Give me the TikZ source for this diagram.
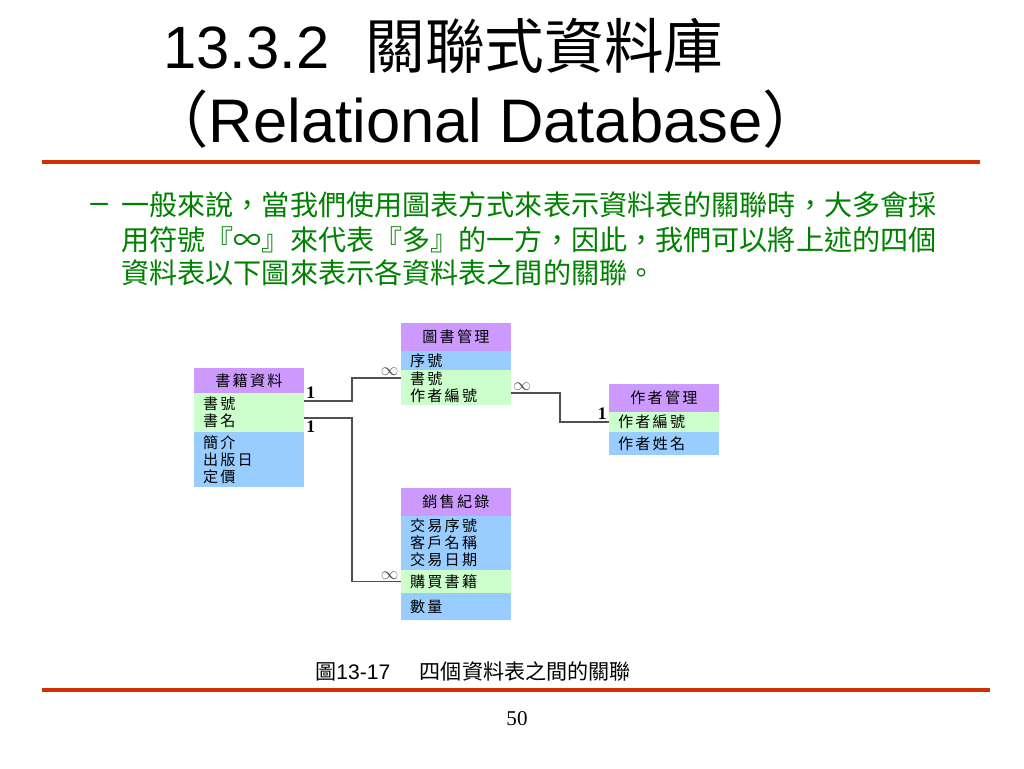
\documentclass[tikz,border=0pt]{standalone}
\usepackage{fontspec}
\setmainfont{Liberation Serif}
\setsansfont{Liberation Sans}
\newfontfamily\cjk{Noto Sans CJK TC}
\newfontfamily\cjkcell[LetterSpace=15]{Noto Sans CJK TC}
\usetikzlibrary{positioning,calc}
\definecolor{slidered}{RGB}{204,51,0}
\definecolor{hdrpurple}{RGB}{204,153,255}
\definecolor{keygreen}{RGB}{204,255,204}
\definecolor{infoblue}{RGB}{153,204,255}
\definecolor{linkgray}{RGB}{80,80,80}
\definecolor{notegreen}{RGB}{0,128,0}
\tikzset{
  hdr/.style={rectangle, fill=hdrpurple, minimum width=2.2cm, inner sep=0pt, outer sep=0pt, font=\cjkcell\fontsize{8.6}{9.8}\selectfont},
  fld/.style={rectangle, text width=1.84cm, inner xsep=0.18cm, inner ysep=0pt, outer sep=0pt, align=left, font=\cjkcell\fontsize{8.6}{9.8}\selectfont},
  key/.style={fld, fill=keygreen},
  info/.style={fld, fill=infoblue},
  rel/.style={draw=linkgray, line width=0.8pt},
  one/.style={font=\bfseries\fontsize{10}{10}\selectfont, inner sep=1pt},
  many/.style={text=linkgray, inner sep=1pt},
  note/.style={text=notegreen, inner sep=0pt, font=\cjk\fontsize{16}{16}\selectfont},
  rule/.style={draw=slidered, line width=2.8pt}
}
\begin{document}
\begin{tikzpicture}[x=0.02cm, y=-0.02cm]
\useasboundingbox (0,0) rectangle (1024,768);

% title
\node (title) [anchor=base west, inner sep=0pt, font=\sffamily\fontsize{34}{34}\selectfont] at (163,68) {13.3.2\hspace{0.6em}{\cjk 關聯式資料庫}};
\node (subtitle) [anchor=base west, inner sep=0pt, font=\sffamily\fontsize{35}{35}\selectfont] at (147,142) {{\cjk （}Relational Database{\cjk ）}};
\draw[rule] (42,162) -- (980,162);

% bullet text
\node (dash) [note, anchor=west, font=\sffamily\fontsize{18}{18}\selectfont] at (90,208) {–};
\node (note1) [note, anchor=west] at (121,205) {一般來說，當我們使用圖表方式來表示資料表的關聯時，大多會採};
\node (note2) [note, anchor=west] at (121,240) {用符號『∞』來代表『多』的一方，因此，我們可以將上述的四個};
\node (note3) [note, anchor=west] at (121,273) {資料表以下圖來表示各資料表之間的關聯。};

% tables
\node (bkhead) [hdr, anchor=north west, minimum height=0.5cm] at (194,368) {書籍資料};
\node (bkkey) [key, below=0pt of bkhead, minimum height=0.78cm] {書號\\書名};
\node (bkinfo) [info, below=0pt of bkkey, minimum height=1.1cm] {簡介\\出版日\\定價};

\node (libhead) [hdr, anchor=north west, minimum height=0.56cm] at (401,323) {圖書管理};
\node (libno) [info, below=0pt of libhead, minimum height=0.38cm] {序號};
\node (libkey) [key, below=0pt of libno, minimum height=0.7cm] {書號\\作者編號};

\node (authhead) [hdr, anchor=north west, minimum height=0.56cm] at (609,384) {作者管理};
\node (authkey) [key, below=0pt of authhead, minimum height=0.4cm] {作者編號};
\node (authname) [info, below=0pt of authkey, minimum height=0.46cm] {作者姓名};

\node (salehead) [hdr, anchor=north west, minimum height=0.56cm] at (401,488) {銷售紀錄};
\node (saleinfo) [info, below=0pt of salehead, minimum height=1.08cm] {交易序號\\客戶名稱\\交易日期};
\node (salebuy) [key, below=0pt of saleinfo, minimum height=0.46cm] {購買書籍};
\node (saleqty) [info, below=0pt of salebuy, minimum height=0.54cm] {數量};

% relations
\draw[rel] ($(bkkey.north east)+(0,8)$) -- node[one, pos=0, above right] {1} ++(48,0)
  |- ($(libkey.north west)+(0,8)$) node[many, above left] {$\infty$};
\draw[rel] ($(bkkey.north east)+(0,25)$) -- node[one, pos=0, below right] {1} ++(48,0)
  |- (salebuy.west) node[many, above left] {$\infty$};
\draw[rel] ($(libkey.north east)+(0,23)$) -- node[many, pos=0, above right] {$\infty$} ++(49,0)
  |- (authkey.west) node[one, above left] {1};

% caption
\node (caption) [anchor=base west, inner sep=0pt, font=\fontsize{12}{12}\selectfont] at (315,679) {{\cjk 圖}\textsf{13-17}\hspace{1.4em}{\cjk 四個資料表之間的關聯}};
\draw[rule] (42,690) -- (990,690);
\node (pagenum) [font=\fontsize{12}{12}\selectfont] at (517,719) {50};
\end{tikzpicture}
\end{document}
